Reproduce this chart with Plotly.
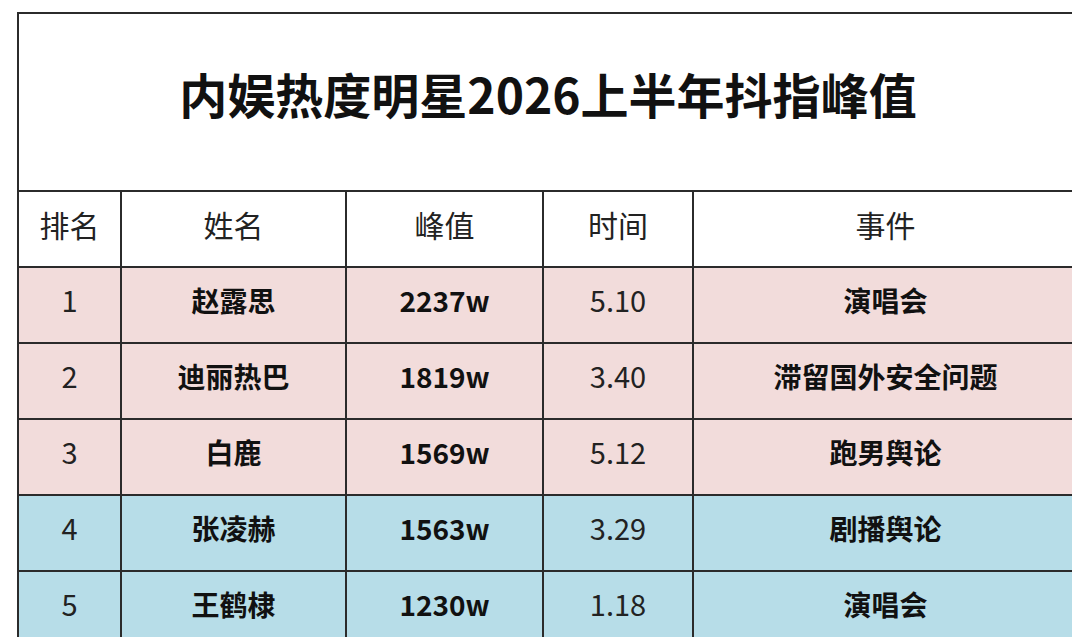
import plotly.graph_objects as go

title = "内娱热度明星2026上半年抖指峰值"
headers = ["排名", "姓名", "峰值", "时间", "事件"]
ranks = ["1", "2", "3", "4", "5"]
names = ["赵露思", "迪丽热巴", "白鹿", "张凌赫", "王鹤棣"]
peaks = ["2237w", "1819w", "1569w", "1563w", "1230w"]
dates = ["5.10", "3.40", "5.12", "3.29", "1.18"]
events = ["演唱会", "滞留国外安全问题", "跑男舆论", "剧播舆论", "演唱会"]
row_group = [1, 1, 1, 2, 2]  # 1 = pink, 2 = blue

W, H = 1080, 637
col_edges = [10, 113, 338, 535, 685, 1070]
row_edges = [183, 259, 335, 411, 487, 563, 639]
title_edges = [5, 183]
line = "#2b2b2b"
font = "Noto Sans CJK SC"
scale = [[0, "white"], [0.333, "white"], [0.334, "#f2dcdb"],
         [0.666, "#f2dcdb"], [0.667, "#b7dde8"], [1, "#b7dde8"]]

col_mid = [(a + b) / 2 for a, b in zip(col_edges[:-1], col_edges[1:])]
row_mid = [(a + b) / 2 for a, b in zip(row_edges[:-1], row_edges[1:])]

fig = go.Figure()

# cell fills (gaps between cells show the dark border shape underneath)
z = [[0] * 5] + [[g] * 5 for g in row_group]
fig.add_trace(go.Heatmap(x=col_edges, y=row_edges, z=z, colorscale=scale,
                         zmin=0, zmax=2, showscale=False, xgap=2, ygap=2,
                         hoverinfo="skip"))
fig.add_trace(go.Heatmap(x=[col_edges[0], col_edges[-1]], y=title_edges, z=[[0]],
                         colorscale=scale, zmin=0, zmax=2, showscale=False,
                         xgap=2, ygap=2, hoverinfo="skip"))


def add_text(xs, ys, texts, size, bold=False, color="#111"):
    if bold:
        texts = ["<b>%s</b>" % t for t in texts]
    fig.add_trace(go.Scatter(x=xs, y=ys, text=texts, mode="text",
                             textposition="middle center", hoverinfo="skip",
                             textfont=dict(family=font, size=size, color=color)))


add_text([sum(col_edges[::len(col_edges) - 1]) / 2], [sum(title_edges) / 2],
         [title], 48, bold=True)
add_text(col_mid, [row_mid[0]] * 5, headers, 30, color="#222")
body = row_mid[1:]
add_text([col_mid[0]] * 5, body, ranks, 29, color="#222")
add_text([col_mid[1]] * 5, body, names, 28, bold=True)
add_text([col_mid[2]] * 5, body, peaks, 28, bold=True)
add_text([col_mid[3]] * 5, body, dates, 29, color="#222")
add_text([col_mid[4]] * 5, body, events, 28, bold=True)

fig.add_shape(type="rect", x0=col_edges[0] - 1, x1=col_edges[-1] + 1,
              y0=title_edges[0] - 1, y1=row_edges[-1] + 1,
              fillcolor=line, line=dict(width=0), layer="below")

fig.update_xaxes(range=[0, W], visible=False, fixedrange=True)
fig.update_yaxes(range=[H, 0], visible=False, fixedrange=True)
fig.update_layout(width=W, height=H, margin=dict(l=0, r=0, t=0, b=0),
                  paper_bgcolor="white", plot_bgcolor="white", showlegend=False)
fig.write_html("out.html")
